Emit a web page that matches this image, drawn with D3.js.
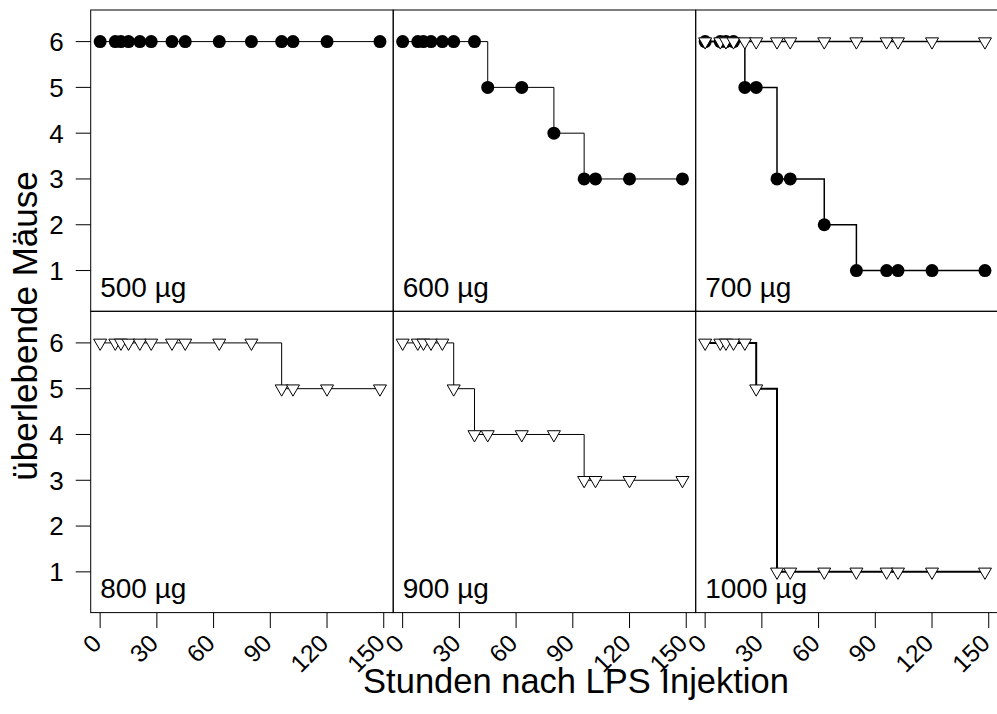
<!DOCTYPE html>
<html><head><meta charset="utf-8">
<script src="https://cdn.jsdelivr.net/npm/d3@7"></script>
<style>
body{margin:0;background:#fff}
text{font-family:"Liberation Sans",Arial,Helvetica,sans-serif;fill:#000}
</style>
</head><body>
<svg id="c" width="997" height="714"></svg>
<script>
// ---- data ----
const hours = [0, 8, 11, 15, 21, 27, 38, 45, 63, 80, 96, 102, 120, 148];
const doseLabels = ["500 µg", "600 µg", "700 µg", "800 µg", "900 µg", "1000 µg"];
const xTicks = [0, 30, 60, 90, 120, 150];
const yTicks = [1, 2, 3, 4, 5, 6];
const circles500 = [6,6,6,6,6,6,6,6,6,6,6,6,6,6];
const circles600 = [6,6,6,6,6,6,6,5,5,4,3,3,3,3];
const circles700 = [6,6,6,6,5,5,3,3,2,1,1,1,1,1];
const triangles700 = [6,6,6,6,6,6,6,6,6,6,6,6,6,6];
const triangles800 = [6,6,6,6,6,6,6,6,6,6,5,5,5,5];
const triangles900 = [6,6,6,6,6,5,4,4,4,4,3,3,3,3];
const triangles1000 = [6,6,6,6,6,5,1,1,1,1,1,1,1,1];
const panelSeries = [
  [{shape:"circle", values:circles500}],
  [{shape:"circle", values:circles600}],
  [{shape:"circle", values:circles700}, {shape:"triangle", values:triangles700}],
  [{shape:"triangle", values:triangles800}],
  [{shape:"triangle", values:triangles900}],
  [{shape:"triangle", values:triangles1000}]
];
const yTitle = "überlebende Mäuse";
const xTitle = "Stunden nach LPS Injektion";

// ---- layout / style ----
const padLeft = 90.7, padTop = 10, pw = 302.5, ph = 301.3;
const lineW = [1, 1, 1.5, 1, 1, 2];
const svg = d3.select("#c");

panelSeries.forEach((series, i) => {
  const col = i % 3, row = Math.floor(i / 3);
  const x0 = padLeft + col * pw, y0 = padTop + row * ph;
  const x = d3.scaleLinear().domain([-5, 155]).range([x0, x0 + pw]);
  const y = d3.scaleLinear().domain([0.11, 6.69]).range([y0 + ph, y0]);
  const g = svg.append("g");
  const line = d3.line().curve(d3.curveStepAfter).x((d, k) => x(hours[k])).y(d => y(d));
  series.forEach(s => {
    g.append("path").attr("d", line(s.values)).attr("fill", "none")
      .attr("stroke", "#000").attr("stroke-width", lineW[i]);
  });
  series.forEach(s => {
    const pts = g.selectAll(null).data(s.values).enter();
    if (s.shape === "circle") {
      pts.append("circle").attr("cx", (d, k) => x(hours[k])).attr("cy", d => y(d))
        .attr("r", 6.5).attr("fill", "#000");
    } else {
      pts.append("path").attr("transform", (d, k) => `translate(${x(hours[k])},${y(d)})`)
        .attr("d", "M0,7.5L6.5,-3.75L-6.5,-3.75Z")
        .attr("fill", "#fff").attr("stroke", "#000").attr("stroke-width", 1);
    }
  });
  g.append("text").attr("x", x0 + 9.5).attr("y", y0 + ph - 14.5)
    .attr("font-size", 28).text(doseLabels[i]);
  g.append("rect").attr("x", x0).attr("y", y0).attr("width", pw).attr("height", ph)
    .attr("fill", "none").attr("stroke", "#000").attr("stroke-width", 1);

  if (col === 0) {
    const ya = g.append("g");
    yTicks.forEach(t => {
      ya.append("line").attr("x1", x0 - 15).attr("x2", x0).attr("y1", y(t)).attr("y2", y(t))
        .attr("stroke", "#000");
      ya.append("text").attr("x", x0 - 27).attr("y", y(t)).attr("dy", "0.36em")
        .attr("text-anchor", "end").attr("font-size", 26).text(t);
    });
  }
  if (row === 1) {
    const xa = g.append("g");
    xTicks.forEach(t => {
      xa.append("line").attr("x1", x(t)).attr("x2", x(t)).attr("y1", y0 + ph).attr("y2", y0 + ph + 15.5)
        .attr("stroke", "#000");
      xa.append("text").attr("transform", `translate(${x(t) - 3.5},${y0 + ph + 26}) rotate(-45)`)
        .attr("dy", "0.36em").attr("text-anchor", "end").attr("font-size", 24.5).text(t);
    });
  }
});

svg.append("text").attr("transform", `translate(37,326) rotate(-90)`)
  .attr("text-anchor", "middle").attr("font-size", 35).text(yTitle);
svg.append("text").attr("x", 576).attr("y", 693)
  .attr("text-anchor", "middle").attr("font-size", 34.5).text(xTitle);
</script>
</body></html>
